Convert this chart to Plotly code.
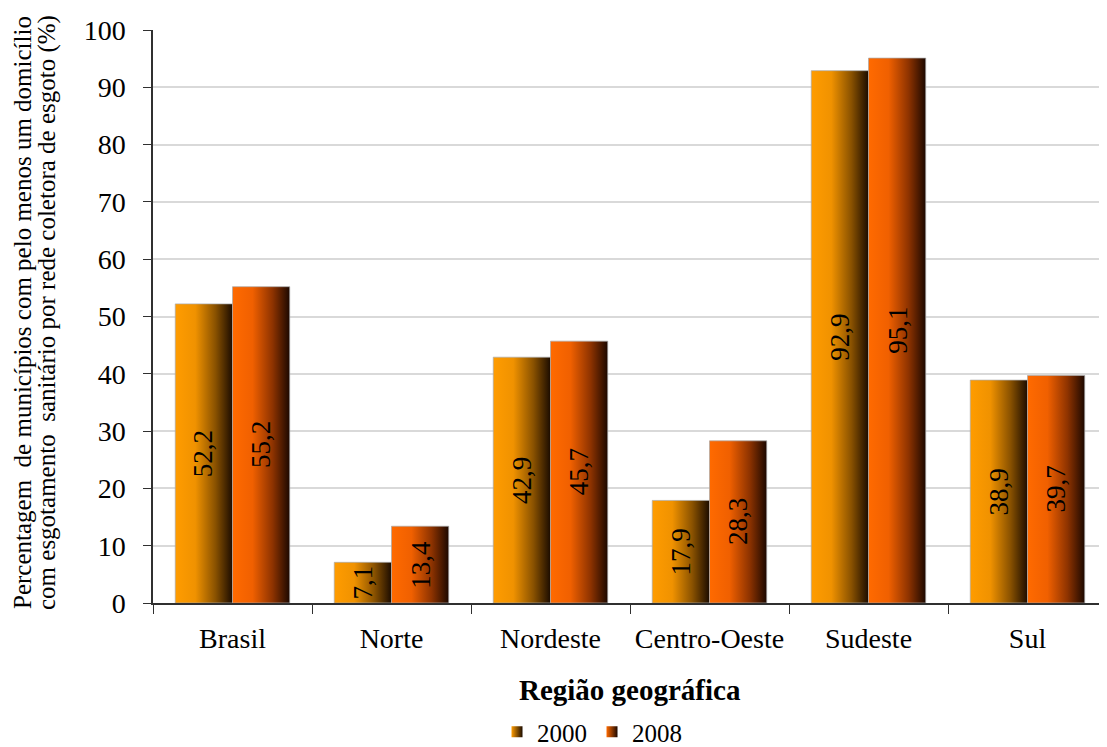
import plotly.graph_objects as go

categories = ["Brasil", "Norte", "Nordeste", "Centro-Oeste", "Sudeste", "Sul"]
series_names = ["2000", "2008"]
values_2000 = [52.2, 7.1, 42.9, 17.9, 92.9, 38.9]
values_2008 = [55.2, 13.4, 45.7, 28.3, 95.1, 39.7]
y_ticks = [0, 10, 20, 30, 40, 50, 60, 70, 80, 90, 100]
y_title_lines = [
    "Percentagem  de municípios com pelo menos um domicílio",
    "com esgotamento  sanitário por rede coletora de esgoto (%)",
]
x_title = "Região geográfica"

series_values = [values_2000, values_2008]
scales = [
    [[0, "#FF9C00"], [0.35, "#F09200"], [0.7, "#8A5200"], [1, "#1C0C00"]],
    [[0, "#FF6A00"], [0.35, "#F06000"], [0.7, "#8E3300"], [1, "#1C0800"]],
]
start_colors = ["#FF9C00", "#FF6A00"]
end_colors = ["#1C0C00", "#1C0800"]
bar_w = 0.36
font_serif = "Liberation Serif, Times New Roman, serif"

# page has an 8px body margin; figure pixel = page pixel - 8
W, H = 1099, 747
ML, MT = 145, 22
plot_h = 573
MB = H - MT - plot_h
plot_w = W - ML


def paper_y(page_y):
    return (MT + plot_h - (page_y - 8)) / plot_h


def paper_x(page_x):
    return ((page_x - 8) - ML) / plot_w


fig = go.Figure()
annotations = []
for s, (name, vals) in enumerate(zip(series_names, series_values)):
    for i, v in enumerate(vals):
        x0 = i - bar_w + s * bar_w
        x1 = x0 + bar_w
        fig.add_trace(go.Scatter(
            x=[x0, x0, x1, x1, x0], y=[0, v, v, 0, 0],
            mode="lines", fill="toself",
            line=dict(color="rgba(170,170,170,0.7)", width=1),
            fillgradient=dict(type="horizontal", colorscale=scales[s]),
            showlegend=False, hoverinfo="skip",
        ))
        annotations.append(dict(
            x=(x0 + x1) / 2, y=v / 2, xref="x", yref="y",
            text=f"{v:.1f}".replace(".", ","), textangle=-90,
            showarrow=False, font=dict(family=font_serif, size=27, color="black"),
        ))
    fig.add_trace(go.Scatter(
        x=[None], y=[None], mode="markers", name=name,
        marker=dict(symbol="square", size=11, color=start_colors[s],
                    gradient=dict(type="horizontal", color=end_colors[s])),
    ))

# y-axis title (two lines, tight spacing)
for line, px in zip(y_title_lines, [23, 47]):
    annotations.append(dict(
        x=paper_x(px), y=paper_y(313), xref="paper", yref="paper",
        xanchor="center", yanchor="middle", text=line, textangle=-90,
        showarrow=False, font=dict(family=font_serif, size=25, color="black"),
    ))
# x-axis title
annotations.append(dict(
    x=0.5, y=paper_y(690), xref="paper", yref="paper",
    xanchor="center", yanchor="middle", text=f"<b>{x_title}</b>",
    showarrow=False, font=dict(family=font_serif, size=29, color="black"),
))

fig.update_layout(
    width=W, height=H,
    margin=dict(l=ML, r=0, t=MT, b=MB, autoexpand=False),
    paper_bgcolor="white", plot_bgcolor="white",
    font=dict(family=font_serif, color="black"),
    annotations=annotations,
    legend=dict(orientation="h", x=paper_x(592), xanchor="center",
                y=paper_y(732), yanchor="middle",
                font=dict(family=font_serif, size=25), itemwidth=30,
                tracegroupgap=0),
    xaxis=dict(
        range=[-0.5, 5.5], tickvals=list(range(len(categories))), ticktext=categories,
        ticks="outside", ticklen=10, tickcolor="rgba(0,0,0,0)",
        tickfont=dict(family=font_serif, size=28),
        showline=True, linecolor="#303030", linewidth=1.5,
        showgrid=False, zeroline=False,
        minor=dict(tick0=0.5, dtick=1, ticks="outside", ticklen=9, tickcolor="#303030"),
    ),
    yaxis=dict(
        range=[0, 100], tickvals=y_ticks,
        ticks="outside", ticklen=8, tickcolor="#303030",
        tickfont=dict(family=font_serif, size=28), ticklabelstandoff=12,
        showline=True, linecolor="#303030", linewidth=1.5,
        showgrid=True, gridcolor="#d9d9d9", gridwidth=1.5, zeroline=False,
    ),
)

fig.write_html("out.html")
